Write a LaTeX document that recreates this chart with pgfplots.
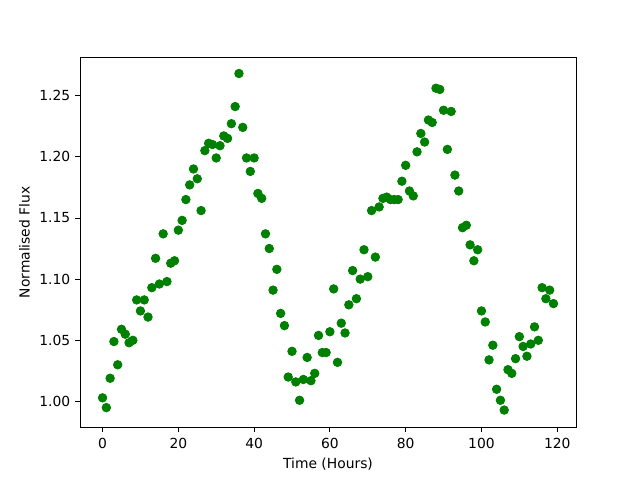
\documentclass[border=0pt]{standalone}
\usepackage{pgfplots}
\pgfplotsset{compat=1.18}
\usepackage{fontspec}
\setmainfont{DejaVu Sans}
\definecolor{mplgreen}{HTML}{008000}
\begin{document}
\fontsize{10.4pt}{12.5pt}\selectfont
\begin{tikzpicture}
\path[use as bounding box] (-60pt,-39.6pt) rectangle (420pt,320.4pt);
\begin{axis}[
  at={(0,0)}, anchor=south west,
  width=372pt, height=277.2pt, scale only axis,
  xmin=-5.95, xmax=124.95, ymin=0.9790, ymax=1.2810,
  xtick={0,20,40,60,80,100,120},
  ytick={1.00,1.05,1.10,1.15,1.20,1.25},
  yticklabel style={/pgf/number format/.cd, fixed, fixed zerofill, precision=2},
  /pgf/number format/assume math mode=true,
  tick align=outside, xtick pos=bottom, ytick pos=left,
  major tick length=3.65pt,
  every tick/.style={black, line width=0.6pt},
  axis line style={line width=0.6pt},
  tick label style={font=\fontsize{10.4pt}{12.5pt}\selectfont},
  label style={font=\fontsize{10.4pt}{12.5pt}\selectfont},
  xlabel={Time (Hours)}, ylabel={Normalised Flux},
  xticklabel style={yshift=-1pt},
]
\addplot[only marks, mark=*, mark size=3.2pt, mark options={fill=mplgreen, draw=mplgreen, line width=0.6pt}] table {
x y
0 1.003
1 0.995
2 1.019
3 1.049
4 1.030
5 1.059
6 1.055
7 1.048
8 1.050
9 1.083
10 1.074
11 1.083
12 1.069
13 1.093
14 1.117
15 1.096
16 1.137
17 1.098
18 1.113
19 1.115
20 1.140
21 1.148
22 1.165
23 1.177
24 1.190
25 1.182
26 1.156
27 1.205
28 1.211
29 1.210
30 1.199
31 1.209
32 1.217
33 1.215
34 1.227
35 1.241
36 1.268
37 1.224
38 1.199
39 1.188
40 1.199
41 1.170
42 1.166
43 1.137
44 1.125
45 1.091
46 1.108
47 1.072
48 1.062
49 1.020
50 1.041
51 1.016
52 1.001
53 1.018
54 1.036
55 1.017
56 1.023
57 1.054
58 1.040
59 1.040
60 1.057
61 1.092
62 1.032
63 1.064
64 1.056
65 1.079
66 1.107
67 1.084
68 1.100
69 1.124
70 1.102
71 1.156
72 1.118
73 1.159
74 1.166
75 1.167
76 1.165
77 1.165
78 1.165
79 1.180
80 1.193
81 1.172
82 1.168
83 1.204
84 1.219
85 1.212
86 1.230
87 1.228
88 1.256
89 1.255
90 1.238
91 1.206
92 1.237
93 1.185
94 1.172
95 1.142
96 1.144
97 1.128
98 1.115
99 1.124
100 1.074
101 1.065
102 1.034
103 1.046
104 1.010
105 1.001
106 0.993
107 1.026
108 1.023
109 1.035
110 1.053
111 1.045
112 1.037
113 1.047
114 1.061
115 1.050
116 1.093
117 1.084
118 1.091
119 1.080
};
\end{axis}
\end{tikzpicture}
\end{document}
